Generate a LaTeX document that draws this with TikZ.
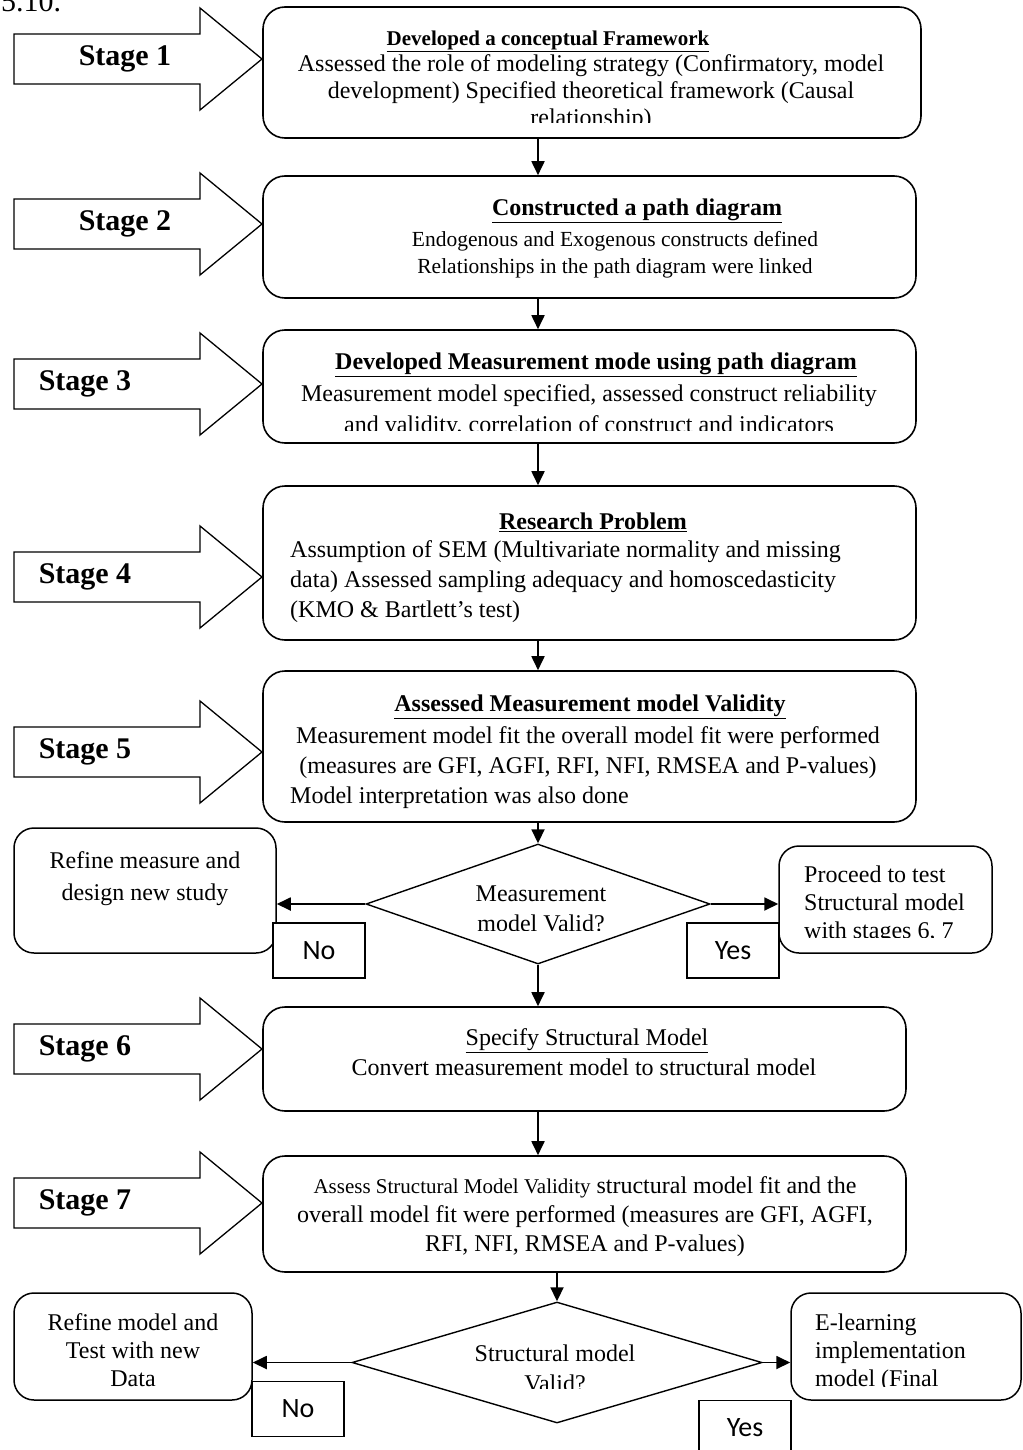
\documentclass[tikz,border=0pt]{standalone}
\usepackage{fontspec}
\setmainfont{Liberation Serif}
\newfontfamily\tagfont{Carlito}
\usetikzlibrary{shapes.geometric,arrows.meta}

\begin{document}
\begin{tikzpicture}[x=1pt,y=-1pt,
  every node/.style={inner sep=0pt},
  bigbox/.style={draw,line width=1.6pt,rounded corners=22pt},
  sidebox/.style={draw,line width=1.5pt,rounded corners=20pt},
  decision/.style={draw,diamond,line width=1.4pt},
  tagbox/.style={draw,fill=white,line width=1.3pt,minimum width=92pt,minimum height=55pt,
    font=\tagfont\fontsize{28}{28}\selectfont},
  flow/.style={line width=1.8pt,-{Triangle[length=14pt,width=13pt]}},
  stagearrow/.style={draw,line width=1.3pt,line join=miter},
  stagelabel/.style={font=\bfseries\fontsize{30}{30}\selectfont},
  body/.style={font=\fontsize{24}{#1}\selectfont},
  body/.default=28,
  heading/.style={font=\bfseries\fontsize{#1}{#1}\selectfont},
  heading/.default=24,
]
\clip (0,0) rectangle (1022,1450);

% figure number running off the top edge
\node[anchor=base west,font=\fontsize{30}{30}\selectfont] (fignum) at (1,12) {5.10.};

% stage arrows on the left
\foreach \n/\yc/\lx in {1/59/125, 2/224/125, 3/384/85, 4/577/85, 5/752/85, 6/1049/85, 7/1203/85} {
  \draw[stagearrow] (14,\yc-25) -- (200,\yc-25) -- (200,\yc-51) -- (262,\yc)
    -- (200,\yc+51) -- (200,\yc+25) -- (14,\yc+25) -- cycle;
  \node[stagelabel] (s\n) at (\lx,\yc) {Stage \n};
}

% main process boxes
\node[bigbox,minimum width=658pt,minimum height=131pt] (b1) at (592,72.5) {};
\node[bigbox,minimum width=653pt,minimum height=122pt] (b2) at (589.5,237) {};
\node[bigbox,minimum width=653pt,minimum height=113pt] (b3) at (589.5,386.5) {};
\node[bigbox,minimum width=653pt,minimum height=154pt] (b4) at (589.5,563) {};
\node[bigbox,minimum width=653pt,minimum height=151pt] (b5) at (589.5,746.5) {};
\node[bigbox,minimum width=643pt,minimum height=104pt] (b6) at (584.5,1059) {};
\node[bigbox,minimum width=643pt,minimum height=116pt] (b7) at (584.5,1214) {};

% box texts
\node[heading=21] (h1) at (548,41) {\underline{Developed a conceptual Framework}};
\begin{scope}
  \clip (270,48) rectangle (915,123);
  \node[body=27,align=center] (t1) at (591,93) {Assessed the role of modeling strategy (Confirmatory, model\\development) Specified theoretical framework (Causal\\relationship)};
\end{scope}

\node[heading] (h2) at (637,211) {\underline{Constructed a path diagram}};
\node[font=\fontsize{21.5}{27}\selectfont,align=center] (t2) at (615,254.5) {Endogenous and Exogenous constructs defined\\Relationships in the path diagram were linked};

\node[heading] (h3) at (596,365) {\underline{Developed Measurement mode using path diagram}};
\begin{scope}
  \clip (270,378) rectangle (910,430);
  \node[body=31,align=center] (t3) at (589,411.5) {Measurement model specified, assessed construct reliability\\and validity, correlation of construct and indicators};
\end{scope}

\node[heading] (h4) at (593,522) {\underline{Research Problem}};
\node[body=30,align=left,anchor=west] (t4) at (290,582) {Assumption of SEM (Multivariate normality and missing\\data) Assessed sampling adequacy and homoscedasticity\\(KMO \& Bartlett’s test)};

\node[heading] (h5) at (590,707) {\underline{Assessed Measurement model Validity}};
\node[body=30,align=center] (t5) at (588,753) {Measurement model fit the overall model fit were performed\\(measures are GFI, AGFI, RFI, NFI, RMSEA and P-values)};
\node[body,anchor=west] (t5b) at (290,798) {Model interpretation was also done};

\node[body] (h6) at (587,1041) {\underline{Specify Structural Model}};
\node[body] (t6) at (584,1067) {Convert measurement model to structural model};

\node[body=29,align=center] (t7) at (585,1217) {{\fontsize{21}{29}\selectfont Assess Structural Model Validity} structural model fit and the\\overall model fit were performed (measures are GFI, AGFI,\\RFI, NFI, RMSEA and P-values)};

% first decision and its branches
\node[decision,minimum width=344pt,minimum height=120pt] (d1) at (538,904) {};
\begin{scope}
  \clip (400,870) rectangle (680,930);
  \node[body=30,align=center] (dt1) at (541,909) {Measurement\\model Valid?};
\end{scope}

\node[sidebox,minimum width=262pt,minimum height=125pt] (r1) at (145,890.5) {};
\node[body=32,align=center] (rt1) at (145,879) {Refine measure and\\design new study};

\node[sidebox,minimum width=213pt,minimum height=107pt] (p1) at (885.5,899.5) {};
\begin{scope}
  \clip (790,850) rectangle (985,937);
  \node[body=28,align=left,anchor=west] (pt1) at (804,905) {Proceed to test\\Structural model\\with stages 6, 7};
\end{scope}

% second decision and its branches
\node[decision,minimum width=410pt,minimum height=121pt] (d2) at (557,1362.5) {};
\begin{scope}
  \clip (420,1320) rectangle (700,1388);
  \node[body=30,align=center] (dt2) at (555,1368) {Structural model\\Valid?};
\end{scope}

\node[sidebox,minimum width=238pt,minimum height=107pt] (r2) at (133,1346.5) {};
\node[body=28,align=center] (rt2) at (133,1350) {Refine model and\\Test with new\\Data};

\node[sidebox,minimum width=230pt,minimum height=107pt] (p2) at (906,1346.5) {};
\begin{scope}
  \clip (800,1300) rectangle (1015,1386);
  \node[body=28,align=left,anchor=west] (pt2) at (815,1353) {E-learning\\implementation\\model (Final};
\end{scope}

% connectors
\draw[flow] (b1.south -| d1.north) -- (b2.north -| d1.north);
\draw[flow] (b2.south -| d1.north) -- (b3.north -| d1.north);
\draw[flow] (b3.south -| d1.north) -- (b4.north -| d1.north);
\draw[flow] (b4.south -| d1.north) -- (b5.north -| d1.north);
\draw[flow] (b5.south -| d1.north) -- (d1.north);
\draw[flow] (d1.west) -- (d1.west -| r1.east);
\draw[flow] (d1.east) -- (d1.east -| p1.west);
\draw[flow] (d1.south) -- (b6.north -| d1.south);
\draw[flow] (b6.south -| d1.south) -- (b7.north -| d1.south);
\draw[flow] (b7.south -| d2.north) -- (d2.north);
\draw[flow] (d2.west) -- (d2.west -| r2.east);
\draw[flow] (d2.east) -- (d2.east -| p2.west);

% answer tags
\node[tagbox] (no1) at (319,950.5) {No};
\node[tagbox] (yes1) at (733,950.5) {Yes};
\node[tagbox] (no2) at (298,1409) {No};
\node[tagbox] (yes2) at (745,1428) {Yes};
\end{tikzpicture}
\end{document}
